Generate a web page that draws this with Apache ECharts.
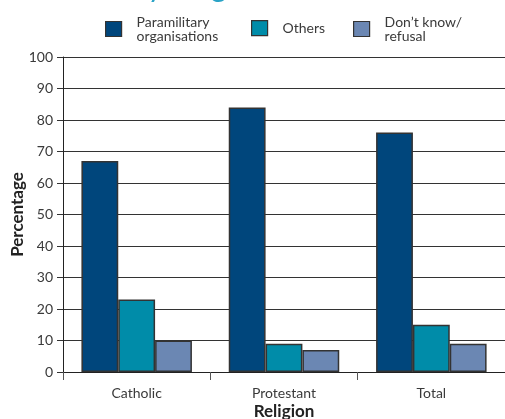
<!DOCTYPE html>
<html>
<head>
<meta charset="utf-8">
<script src="https://cdn.jsdelivr.net/npm/echarts@6/dist/echarts.min.js"></script>
<style>
  html, body { margin: 0; padding: 0; background: #fff; }
  #chart { width: 505px; height: 419px; }
</style>
</head>
<body>
<div id="chart"></div>
<script>
// Religion groups along the x axis
const categories = ['Catholic', 'Protestant', 'Total'];

// Percentages per response group
const paramilitary = [67, 84, 76];
const others = [23, 9, 15];
const dontKnow = [10, 7, 9];

const seriesNames = ['Paramilitary\norganisations', 'Others', 'Don\u2019t know/\nrefusal'];
const yTicks = [0, 10, 20, 30, 40, 50, 60, 70, 80, 90, 100];

const FONT = 'Lato';
const colors = ['#00467c', '#008ca9', '#6b87b3'];

const chart = echarts.init(document.getElementById('chart'), null, { renderer: 'canvas' });

function barSeries(name, data, color) {
  return {
    name: name,
    type: 'bar',
    data: data,
    barGap: '0%',
    barCategoryGap: '25%',
    itemStyle: { color: color, borderColor: '#333', borderWidth: 1.5 }
  };
}

// One legend block per series so each key sits at its own position
function legendAt(name, left, top) {
  return {
    left: left,
    top: top,
    padding: 5,
    itemWidth: 16,
    itemHeight: 15,
    icon: 'rect',
    itemStyle: { borderColor: '#333', borderWidth: 1.2 },
    textStyle: { fontFamily: FONT, fontSize: 14, color: '#3a3a3a', lineHeight: 14, padding: [0, 0, 0, 10] },
    data: [name]
  };
}

chart.setOption({
  animation: false,
  textStyle: { fontFamily: FONT },
  graphic: [{
    type: 'text',
    left: 131,
    top: -28,
    style: { text: 'by religion', font: '30px ' + FONT, fill: '#2aa3c6' }
  }],
  legend: [
    legendAt(seriesNames[0], 100, 10),
    legendAt(seriesNames[1], 246, 15),
    legendAt(seriesNames[2], 348, 10)
  ],
  grid: { left: 63, right: 0, top: 57, bottom: 47, containLabel: false, outerBoundsMode: 'none' },
  xAxis: {
    type: 'category',
    data: categories,
    name: 'Religion',
    nameLocation: 'middle',
    nameGap: 31,
    nameMoveOverlap: false,
    nameTextStyle: { fontFamily: FONT, fontSize: 17, fontWeight: 'bold', color: '#222' },
    axisLine: { lineStyle: { color: '#222', width: 1 } },
    axisTick: { show: true, length: 8, alignWithLabel: false, lineStyle: { color: '#555' } },
    axisLabel: { fontFamily: FONT, fontSize: 14, color: '#3a3a3a', margin: 14 },
    splitLine: { show: false }
  },
  yAxis: {
    type: 'value',
    min: yTicks[0],
    max: yTicks[yTicks.length - 1],
    interval: 10,
    name: 'Percentage',
    nameLocation: 'middle',
    nameGap: 37,
    nameMoveOverlap: false,
    nameRotate: 90,
    nameTextStyle: { fontFamily: FONT, fontSize: 17, fontWeight: 'bold', color: '#222' },
    axisLine: { show: true, lineStyle: { color: '#222', width: 1 } },
    axisTick: { show: true, length: 6, inside: false, lineStyle: { color: '#333' } },
    axisLabel: { fontFamily: FONT, fontSize: 14, color: '#3a3a3a', margin: 10 },
    splitLine: { show: true, lineStyle: { color: '#333', width: 1 } }
  },
  series: [
    barSeries(seriesNames[0], paramilitary, colors[0]),
    barSeries(seriesNames[1], others, colors[1]),
    barSeries(seriesNames[2], dontKnow, colors[2])
  ]
});
</script>
</body>
</html>
